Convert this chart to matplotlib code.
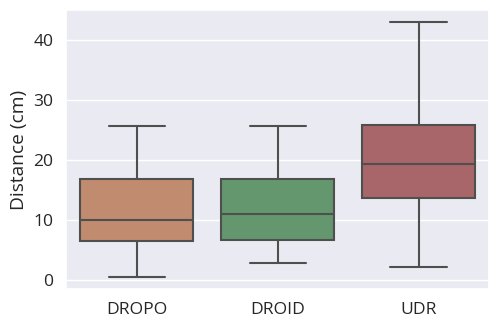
import matplotlib
matplotlib.use("Agg")
import matplotlib.pyplot as plt
import seaborn as sns

# box statistics (cm)
methods = ["DROPO", "DROID", "UDR"]
whislo = [0.45, 2.8, 2.2]
q1 = [6.4, 6.7, 13.6]
med = [9.9, 11.0, 19.3]
q3 = [16.9, 16.8, 25.8]
whishi = [25.7, 25.7, 43.0]
colors = ["#c08b6e", "#64976e", "#a9666a"]

sns.set_theme(style="darkgrid")
plt.rcParams["font.family"] = ["Open Sans", "DejaVu Sans"]

line_color = "#4f4f4f"

stats = []
for i, name in enumerate(methods):
    stats.append({"label": name, "whislo": whislo[i], "q1": q1[i], "med": med[i],
                  "q3": q3[i], "whishi": whishi[i], "fliers": []})

fig, ax = plt.subplots(figsize=(4.99, 3.28), dpi=100)
lw = 1.5
bp = ax.bxp(stats, positions=range(len(methods)), widths=0.8, patch_artist=True,
            showfliers=False,
            boxprops=dict(edgecolor=line_color, linewidth=lw),
            medianprops=dict(color=line_color, linewidth=lw),
            whiskerprops=dict(color=line_color, linewidth=lw),
            capprops=dict(color=line_color, linewidth=lw),
            capwidths=0.4)
for patch, c in zip(bp["boxes"], colors):
    patch.set_facecolor(c)

ax.grid(axis="x", visible=False)
ax.set_xlim(-0.5, 2.5)
ax.set_ylim(-1.6, 45.1)
ax.set_yticks([0, 10, 20, 30, 40])
ax.tick_params(axis="both", labelsize=12.6)
ax.set_ylabel("Distance (cm)", fontsize=13.8)

fig.subplots_adjust(left=0.133, right=0.98, top=0.97, bottom=0.118)
fig.savefig("out.png", dpi=100)
